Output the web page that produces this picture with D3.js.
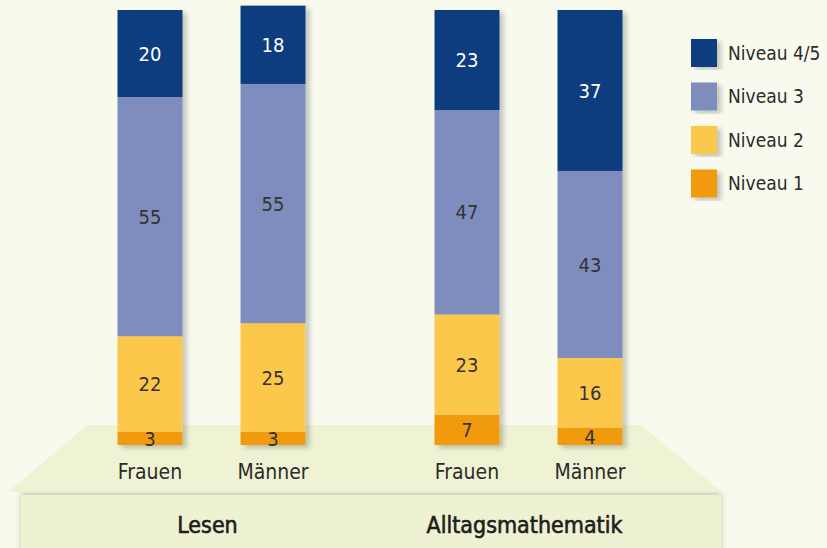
<!DOCTYPE html>
<html>
<head>
<meta charset="utf-8">
<script src="https://cdn.jsdelivr.net/npm/d3@7"></script>
<style>
  body { margin: 0; background: #f9faee; }
  svg { display: block; }
  text { font-family: "DejaVu Sans Condensed", "DejaVu Sans", sans-serif; font-stretch: condensed; }
</style>
</head>
<body>
<div id="chart"></div>
<script>
const groups = ["Lesen", "Alltagsmathematik"];
const sexes = ["Frauen", "Männer"];
const levels = ["Niveau 1", "Niveau 2", "Niveau 3", "Niveau 4/5"];
// values per bar, bottom to top (Niveau 1, 2, 3, 4/5)
const lesenFrauen = [3, 22, 55, 20];
const lesenMaenner = [3, 25, 55, 18];
const mathFrauen = [7, 23, 47, 23];
const mathMaenner = [4, 16, 43, 37];
const levelColors = ["#f29a0f", "#fcc84c", "#7e8dbd", "#0b3d7e"];

const W = 827, H = 548;
const barData = [
  { group: "Lesen", sex: "Frauen", values: lesenFrauen },
  { group: "Lesen", sex: "Männer", values: lesenMaenner },
  { group: "Alltagsmathematik", sex: "Frauen", values: mathFrauen },
  { group: "Alltagsmathematik", sex: "Männer", values: mathMaenner }
];

const svg = d3.select("#chart").append("svg").attr("width", W).attr("height", H);

const defs = svg.append("defs");
defs.append("filter").attr("id", "shadow").attr("x", "-20%").attr("y", "-5%").attr("width", "150%").attr("height", "115%")
  .append("feDropShadow").attr("dx", 4).attr("dy", 3).attr("stdDeviation", 2.5)
  .attr("flood-color", "#000").attr("flood-opacity", 0.22);
defs.append("filter").attr("id", "blur").append("feGaussianBlur").attr("stdDeviation", 3);

// platform
svg.append("rect").attr("x", 21).attr("y", 493).attr("width", 700).attr("height", 60)
  .attr("fill", "#c4c7aa").attr("filter", "url(#blur)");
svg.append("rect").attr("x", 21).attr("y", 495).attr("width", 700).attr("height", 60).attr("fill", "#eef1d2");
svg.append("polygon").attr("points", "87,425 641,425 722,492 8,492").attr("fill", "#eff3d4");

const x0 = d3.scaleBand().domain(groups).range([53, 687]);
const x1 = d3.scaleBand().domain(sexes).range([0, x0.bandwidth()]).paddingInner(0.472).paddingOuter(0.5245);
const y = d3.scaleLinear().domain([0, 100]).range([445, 10]);

const bars = svg.selectAll(".bar").data(barData).enter().append("g")
  .attr("class", "bar")
  .attr("transform", d => `translate(${x0(d.group) + x1(d.sex)},0)`);

bars.each(function(d) {
  const g = d3.select(this);
  let acc = 0;
  const segs = d.values.map((v, i) => { const s = { v, i, y0: acc, y1: acc + v }; acc += v; return s; });
  const stack = g.append("g").attr("filter", "url(#shadow)");
  stack.selectAll("rect").data(segs).enter().append("rect")
    .attr("x", 0).attr("width", x1.bandwidth())
    .attr("y", s => y(s.y1)).attr("height", s => y(s.y0) - y(s.y1))
    .attr("fill", s => levelColors[s.i]);
  g.selectAll(".val").data(segs).enter().append("text")
    .attr("class", "val")
    .attr("x", x1.bandwidth() / 2)
    .attr("y", s => (y(s.y0) + y(s.y1)) / 2)
    .attr("dy", "0.36em")
    .attr("text-anchor", "middle")
    .style("font-size", "20px")
    .style("fill", s => s.i === 3 ? "#ffffff" : "#333333")
    .text(s => s.v);
  g.append("text")
    .attr("x", x1.bandwidth() / 2).attr("y", 479)
    .attr("text-anchor", "middle")
    .style("font-size", "21px").style("fill", "#2b2b2b")
    .text(d.sex);
});

svg.selectAll(".grp").data(groups).enter().append("text")
  .attr("class", "grp")
  .attr("x", d => x0(d) + x0.bandwidth() / 2 - 4)
  .attr("y", 533)
  .attr("text-anchor", "middle")
  .style("font-size", "23px").style("fill", "#1e1e1e")
  .style("stroke", "#1e1e1e").style("stroke-width", 0.6)
  .text(d => d);

// legend
const legendOrder = levels.map((l, i) => ({ label: l, color: levelColors[i] })).reverse();
const legend = svg.append("g").attr("transform", "translate(691,39)");
const li = legend.selectAll("g").data(legendOrder).enter().append("g")
  .attr("transform", (d, i) => `translate(0,${i * 43.5})`);
li.append("rect").attr("width", 26).attr("height", 28).attr("fill", d => d.color).attr("filter", "url(#shadow)");
li.append("text").attr("x", 37).attr("y", 14).attr("dy", "0.36em")
  .style("font-size", "19px").style("fill", "#2b2b2b").text(d => d.label);
</script>
</body>
</html>
